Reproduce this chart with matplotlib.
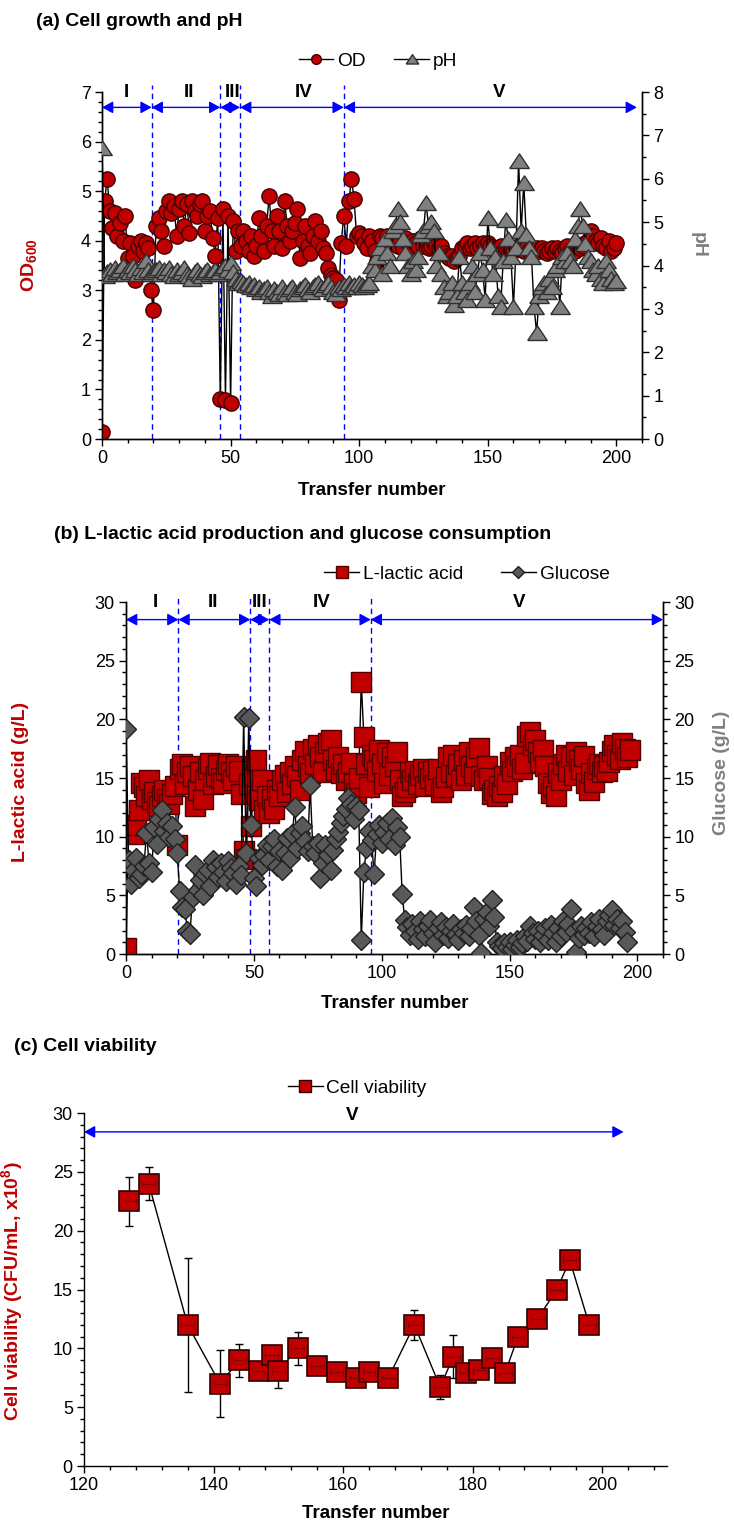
import numpy as np
import matplotlib
matplotlib.use('Agg')
import matplotlib.pyplot as plt
from matplotlib import font_manager
from matplotlib.lines import Line2D
from matplotlib.ticker import MultipleLocator

names = {f.name for f in font_manager.fontManager.ttflist}
NARROW = 'Liberation Sans Narrow' if 'Liberation Sans Narrow' in names else 'Liberation Sans'
plt.rcParams['font.family'] = ['Liberation Sans', 'DejaVu Sans']
plt.rcParams['mathtext.fontset'] = 'custom'
plt.rcParams['mathtext.rm'] = 'Liberation Sans:bold'
plt.rcParams['mathtext.it'] = 'Liberation Sans:bold'
plt.rcParams['mathtext.bf'] = 'Liberation Sans:bold'

# ---- (a) cell growth and pH, one value per transfer (0..200)
od = [0.15, 4.8, 5.25, 4.6, 4.25, 4.55, 4.1, 4.35, 4.0, 4.5,
      3.65, 3.95, 3.7, 3.2, 3.9, 4.0, 3.8, 3.95, 3.85, 3.0,
      2.6, 4.3, 4.45, 4.2, 3.9, 4.6, 4.8, 4.55, 4.7, 4.1,
      4.65, 4.8, 4.3, 4.75, 4.15, 4.8, 4.6, 4.5, 4.75, 4.8,
      4.2, 4.5, 4.6, 4.05, 3.7, 4.45, 0.8, 4.65, 0.78, 4.5,
      0.72, 4.4, 3.8, 4.2, 3.9, 4.2, 4.0, 3.8, 4.1, 3.7,
      3.9, 4.45, 4.1, 3.8, 4.3, 4.9, 4.2, 3.9, 4.5, 4.2,
      3.85, 4.8, 4.3, 4.0, 4.2, 4.35, 4.65, 3.65, 4.0, 4.3,
      3.9, 3.75, 4.1, 4.4, 4.0, 4.2, 3.85, 3.75, 3.45, 3.3,
      3.25, 3.2, 2.8, 3.95, 4.5, 3.9, 4.8, 5.25, 4.85, 4.1,
      4.15, 4.1, 3.95, 3.85, 4.1, 4.0, 3.8, 3.6, 4.1, 4.05,
      3.9, 4.1, 4.0, 3.95, 4.1, 3.9, 4.0, 3.85, 4.05, 3.95,
      3.9, 4.0, 3.95, 3.9, 4.05, 3.9, 4.0, 3.85, 3.9, 3.95,
      3.9, 3.85, 3.9, 3.75, 3.7, 3.65, 3.7, 3.6, 3.65, 3.7,
      3.85, 3.9, 3.95, 3.85, 3.9, 3.95, 3.85, 3.9, 3.95, 3.9,
      3.95, 3.9, 3.85, 3.8, 3.85, 3.9, 3.8, 3.85, 3.9, 3.85,
      3.8, 3.85, 3.9, 3.85, 3.8, 3.85, 3.8, 3.75, 3.8, 3.85,
      3.8, 3.85, 3.8, 3.75, 3.8, 3.85, 3.8, 3.85, 3.8, 3.75,
      3.85, 3.9, 3.8, 3.85, 3.8, 3.9, 3.85, 3.9, 3.95, 4.0,
      4.2, 4.1, 4.0, 3.95, 4.05, 3.9, 3.85, 4.0, 3.8, 3.85,
      3.95]
ph = [6.7, 3.75, 3.85, 3.9, 3.8, 3.95, 3.85, 3.9, 4.0, 3.8,
      3.9, 3.85, 4.0, 3.9, 3.8, 3.95, 3.85, 4.1, 3.9, 3.8,
      3.85, 3.9, 3.95, 3.8, 3.9, 3.85, 3.95, 3.8, 3.75, 3.9,
      3.8, 3.85, 3.95, 3.8, 3.75, 3.7, 3.85, 3.9, 3.8, 3.75,
      3.85, 3.9, 3.8, 3.85, 3.9, 3.8, 3.85, 3.95, 4.0, 3.9,
      4.05, 3.85, 3.7, 3.6, 3.65, 3.6, 3.55, 3.6, 3.5, 3.55,
      3.45, 3.5, 3.4, 3.45, 3.5, 3.4, 3.3, 3.45, 3.4, 3.35,
      3.5, 3.4, 3.35, 3.45, 3.5, 3.4, 3.35, 3.45, 3.5, 3.55,
      3.45, 3.4, 3.5, 3.55, 3.6, 3.5, 3.45, 3.55, 3.6, 3.5,
      3.4, 3.35, 3.5, 3.45, 3.55, 3.5, 3.6, 3.5, 3.55, 3.5,
      3.6, 3.55, 3.5, 3.55, 3.6, 4.0, 3.9, 4.2, 4.4, 3.8,
      4.6, 4.3, 4.0, 4.8, 4.9, 5.3, 5.0, 4.6, 4.3, 4.0,
      3.8, 4.1, 3.9, 4.2, 4.7, 4.8, 5.45, 4.9, 5.0, 4.8,
      4.0, 4.3, 3.8, 3.5, 3.3, 3.4, 3.6, 3.1, 3.3, 4.2,
      3.6, 3.4, 3.2, 3.6, 4.0, 3.4, 3.8, 4.3, 3.9, 3.2,
      5.1, 4.4, 3.8, 4.2, 3.3, 3.05, 4.1, 5.05, 4.6, 4.2,
      3.05, 4.4, 6.4, 4.8, 5.9, 4.7, 4.4, 4.2, 3.05, 2.45,
      3.3, 3.5, 3.6, 3.4, 3.7, 3.5, 3.9, 4.0, 3.05, 4.2,
      4.1, 4.3, 4.1, 4.0, 4.6, 4.9, 5.3, 4.9, 4.5, 4.2,
      4.1, 3.9, 3.8, 4.0, 3.7, 3.6, 4.1, 3.9, 3.7, 3.6,
      3.65]

# ---- (b) L-lactic acid (transfers 0..197) and glucose (transfers 0..196), g/L
lactic = [0.5, 10.5, 10.8, 10.2, 11.0, 12.3, 14.6, 14.2, 13.5, 14.8,
          13.2, 13.8, 13.0, 12.6, 13.5, 14.0, 13.2, 12.8, 13.6, 14.3,
          9.3, 15.8, 16.2, 14.5, 15.5, 16.0, 15.2, 12.6, 14.0, 15.5,
          13.2, 14.8, 15.8, 16.3, 14.5, 15.2, 16.1, 15.0, 14.6, 15.7,
          16.2, 15.5, 14.8, 16.0, 15.6, 13.6, 8.8, 8.1, 14.5, 10.9,
          15.2, 16.5, 13.1, 14.8, 12.3, 13.5, 12.0, 13.2, 12.4, 14.0,
          13.5, 14.8, 15.3, 13.8, 15.5, 14.5, 16.0, 15.2, 14.0, 16.5,
          17.3, 16.0, 15.4, 17.5, 16.2, 17.8, 16.8, 15.5, 17.2, 18.0,
          18.2, 16.5, 15.7, 16.8, 15.4, 16.2, 14.8, 15.5, 16.3, 14.5,
          13.7, 15.0, 23.2, 18.5, 16.2, 14.2, 17.0, 16.5, 15.6, 17.4,
          16.2, 14.6, 17.1, 15.3, 16.8, 16.0, 17.2, 14.8, 13.5, 13.8,
          14.2, 15.5, 14.8, 15.6, 14.5, 15.3, 15.8, 14.3, 15.5, 15.0,
          15.6, 14.4, 15.8, 13.8, 14.2, 15.1, 16.8, 15.5, 17.0, 15.2,
          16.2, 14.8, 16.5, 15.3, 17.2, 16.0, 15.4, 16.8, 17.6, 15.2,
          14.8, 16.0, 15.0, 13.6, 14.0, 13.5, 14.3, 13.8, 15.2, 14.5,
          16.4, 15.6, 16.8, 16.0, 17.0, 15.8, 16.3, 18.6, 18.9, 17.8,
          18.2, 17.2, 16.4, 17.4, 16.0, 14.6, 13.7, 14.3, 13.5, 15.4,
          14.8, 16.2, 17.0, 15.6, 16.8, 15.3, 17.2, 16.5, 15.8, 16.9,
          14.6, 14.0, 15.4, 14.7, 15.8, 16.2, 15.5, 16.0, 15.6, 16.4,
          17.3, 17.8, 17.0, 16.6, 18.0, 17.5, 16.8, 17.4]
glucose = [19.2, 8.0, 6.0, 7.2, 8.2, 6.5, 6.8, 7.5, 10.3, 7.8,
           7.0, 10.8, 9.4, 11.5, 12.3, 10.5, 11.2, 10.0, 10.9, 9.8,
           8.6, 5.4, 4.0, 3.8, 2.0, 1.7, 4.9, 7.6, 5.5, 6.3,
           5.0, 6.8, 7.2, 5.8, 8.0, 7.4, 6.6, 7.8, 7.0, 6.2,
           7.9, 7.3, 6.9, 6.0, 7.5, 6.7, 20.2, 8.6, 20.1, 11.0,
           6.5, 5.8, 8.2, 7.6, 8.4, 9.3, 8.0, 9.2, 9.8, 7.5,
           8.8, 7.2, 8.6, 9.9, 8.2, 10.2, 12.5, 9.0, 10.3, 10.9,
           9.6, 8.8, 14.4, 9.2, 8.6, 9.5, 6.5, 7.8, 9.3, 8.4,
           7.2, 8.9, 9.8, 10.4, 11.2, 11.8, 12.4, 13.3, 12.8, 11.5,
           12.6, 12.3, 1.2, 7.0, 9.0, 10.5, 9.7, 6.8, 10.2, 11.0,
           9.5, 10.4, 11.2, 9.8, 11.6, 9.3, 10.8, 10.0, 5.1, 2.9,
           2.3, 1.6, 2.6, 2.0, 1.3, 2.8, 2.1, 1.5, 2.4, 2.9,
           1.8, 1.0, 2.2, 2.7, 1.6, 2.3, 1.4, 2.0, 2.6, 1.7,
           1.2, 2.1, 1.8, 2.5, 1.5, 2.2, 4.0, 2.8, 1.6, 0.1,
           3.0, 3.6, 2.4, 4.6, 3.2, 1.0, 0.7, 0.5, 0.9, 0.6,
           1.0, 0.4, 0.8, 1.2, 0.6, 0.9, 1.5, 1.1, 2.4, 1.8,
           1.3, 2.0, 1.0, 1.6, 2.2, 1.2, 2.5, 1.8, 1.0, 2.2,
           1.5, 2.8, 1.9, 2.6, 3.8, 2.0, 0.2, 1.4, 2.4, 1.6,
           2.2, 1.8, 2.7, 1.5, 2.4, 3.0, 2.1, 1.6, 2.8, 3.3,
           3.75, 2.5, 3.0, 2.2, 2.8, 1.9, 1.05]

# ---- (c) cell viability (CFU/mL, x10^8)
cv_transfer = [127, 130, 136, 141, 144, 147, 149, 150, 153, 156, 159, 162, 164,
               167, 171, 175, 177, 179, 181, 183, 185, 187, 190, 193, 195, 198]
cv_value = [22.5, 24.0, 12.0, 7.0, 9.0, 8.1, 9.4, 8.1, 10.0, 8.5, 8.0, 7.5, 8.0,
            7.5, 12.0, 6.7, 9.3, 7.9, 8.15, 9.2, 7.9, 11.0, 12.5, 15.0, 17.5, 12.0]
cv_sd = [2.1, 1.4, 5.7, 2.85, 1.4, 0.5, 0.5, 1.5, 1.43, 0.4, 0.4, 0.4, 0.4,
         0.4, 1.25, 1.0, 1.8, 0.4, 0.4, 0.4, 0.4, 0.4, 0.4, 0.4, 0.4, 0.4]

# phase boundaries and labels
bounds_a = [0, 19.3, 46, 53.7, 94, 208]
bounds_b = [0, 20.5, 48.6, 56, 95.7, 210]
phases = ['I', 'II', 'III', 'IV', 'V']
label_x_a = [9.3, 33.7, 50.6, 78.5, 154.5]
label_x_b = [11.6, 34.2, 52.3, 76.3, 153.8]

RED = '#C00000'
BLUE = '#0000FF'
# wide, flat triangle like the spreadsheet marker
TRI = [(-1, -0.72), (1, -0.72), (0, 0.78), (-1, -0.72)]
LABEL_FS = 14
TICK_FS = 13
LEG_FS = 13.8


def style_axis(ax, ymajor, yminor):
    ax.spines['top'].set_visible(False)
    for s in ax.spines.values():
        s.set_linewidth(1.0)
    ax.yaxis.set_major_locator(MultipleLocator(ymajor))
    ax.yaxis.set_minor_locator(MultipleLocator(yminor))
    ax.tick_params(axis='both', which='major', direction='out', length=5, width=1,
                   labelsize=TICK_FS, pad=3)
    ax.tick_params(axis='both', which='minor', direction='out', length=3, width=1)


def draw_phases(ax, bounds, label_x, y_arrow, y_text):
    for b in bounds[1:-1]:
        ax.axvline(b, ymin=0, ymax=1.02, color=BLUE, lw=1, ls=(0, (4, 3)), clip_on=False, zorder=1)
    for i in range(len(phases)):
        ax.annotate('', xy=(bounds[i + 1], y_arrow), xytext=(bounds[i], y_arrow),
                    arrowprops=dict(arrowstyle='<|-|>,head_length=0.55,head_width=0.3',
                                    color=BLUE, lw=1, shrinkA=0, shrinkB=0,
                                    mutation_scale=12), annotation_clip=False)
        ax.text(label_x[i], y_text, phases[i], ha='center', va='center',
                fontsize=13.5, fontweight='bold', family=NARROW, clip_on=False)


fig = plt.figure(figsize=(7.34, 15.26), dpi=100)

# ================= (a)
ax = fig.add_axes([0.139, 0.7123, 0.7357, 0.2274])
ax2 = ax.twinx()
ax.plot(np.arange(len(od)), od, color='black', lw=1, marker='o', ms=11, mfc=RED,
        mec='#400000', mew=1, zorder=3)
ax2.plot(np.arange(len(ph)), ph, color='black', lw=1, marker=TRI, ms=14, mfc='#808080',
         mec='#303030', mew=1, zorder=3)
ax.set_xlim(0, 210)
ax.set_ylim(0, 7)
ax2.set_ylim(0, 8)
ax.xaxis.set_major_locator(MultipleLocator(50))
ax.xaxis.set_minor_locator(MultipleLocator(10))
style_axis(ax, 1, 0.2)
style_axis(ax2, 1, 0.5)
draw_phases(ax, bounds_a, label_x_a, 6.69, 7.0)
ax.set_xlabel('Transfer number', fontsize=13.5, fontweight='bold', family=NARROW)
ax.xaxis.set_label_coords(0.5, -0.125)
ax.set_ylabel(r'OD$_{\mathrm{600}}$', fontsize=LABEL_FS, fontweight='bold', color=RED)
ax.yaxis.set_label_coords(-0.117, 0.5)
ax2.set_ylabel('pH', fontsize=LABEL_FS, fontweight='bold', color='#808080', rotation=270,
               va='center')
ax2.yaxis.set_label_coords(1.104, 0.56)
fig.text(0.049, 0.9856, '(a) Cell growth and pH', fontsize=14, fontweight='bold',
         family=NARROW, va='center')
h_a = [Line2D([], [], color='black', lw=1, marker='o', ms=7, mfc=RED, mec='#400000'),
       Line2D([], [], color='black', lw=1, marker=TRI, ms=9, mfc='#808080', mec='#303030')]
fig.legend(h_a, ['OD', 'pH'], loc='center', bbox_to_anchor=(0.515, 0.96), ncol=2,
           frameon=False, handlelength=1.8, handletextpad=0.2, columnspacing=1.5,
           prop={'family': NARROW, 'size': LEG_FS})

# ================= (b)
bx = fig.add_axes([0.1717, 0.3748, 0.7316, 0.2307])
bx2 = bx.twinx()
bx.plot(np.arange(len(lactic)), lactic, color='black', lw=1, marker='s', ms=14,
        mfc=RED, mec='#500000', mew=1, zorder=3)
bx2.plot(np.arange(len(glucose)), glucose, color='black', lw=1, marker='D', ms=10,
         mfc='#595959', mec='#202020', mew=1, zorder=3)
bx.set_xlim(0, 210)
bx.set_ylim(0, 30)
bx2.set_ylim(0, 30)
bx.xaxis.set_major_locator(MultipleLocator(50))
bx.xaxis.set_minor_locator(MultipleLocator(10))
style_axis(bx, 5, 1)
style_axis(bx2, 5, 1)
draw_phases(bx, bounds_b, label_x_b, 28.5, 30.0)
bx.set_xlabel('Transfer number', fontsize=13.5, fontweight='bold', family=NARROW)
bx.xaxis.set_label_coords(0.5, -0.115)
bx.set_ylabel('L-lactic acid (g/L)', fontsize=LABEL_FS, fontweight='bold', color=RED)
bx.yaxis.set_label_coords(-0.181, 0.49)
bx2.set_ylabel('Glucose (g/L)', fontsize=LABEL_FS, fontweight='bold', color='#808080',
               rotation=90)
bx2.yaxis.set_label_coords(1.093, 0.514)
fig.text(0.0736, 0.650, '(b) L-lactic acid production and glucose consumption',
         fontsize=14, fontweight='bold', family=NARROW, va='center')
h_b = [Line2D([], [], color='black', lw=1, marker='s', ms=8, mfc=RED, mec='#500000'),
       Line2D([], [], color='black', lw=1, marker='D', ms=6, mfc='#595959', mec='#202020')]
fig.legend(h_b, ['L-lactic acid', 'Glucose'], loc='center', bbox_to_anchor=(0.636, 0.6239),
           ncol=2, frameon=False, handlelength=1.8, handletextpad=0.2, columnspacing=2.0,
           prop={'family': NARROW, 'size': LEG_FS})

# ================= (c)
cx = fig.add_axes([0.1144, 0.0393, 0.7943, 0.2313])
cx.errorbar(cv_transfer, cv_value, yerr=cv_sd, fmt='none', ecolor='black', elinewidth=1,
            capsize=3, capthick=1, zorder=2)
cx.plot(cv_transfer, cv_value, color='black', lw=1, marker='s', ms=14, mfc=RED,
        mec='#300000', mew=1.2, zorder=3)
cx.errorbar(cv_transfer, cv_value, xerr=1.0, fmt='none', ecolor='#8a0000', elinewidth=0.8,
            capsize=2.5, capthick=0.8, zorder=4)
cx.set_xlim(120, 210)
cx.set_ylim(0, 30)
cx.xaxis.set_major_locator(MultipleLocator(20))
cx.xaxis.set_minor_locator(MultipleLocator(4))
style_axis(cx, 5, 1)
cx.spines['right'].set_visible(False)
cx.annotate('', xy=(203.3, 28.4), xytext=(120, 28.4),
            arrowprops=dict(arrowstyle='<|-|>,head_length=0.55,head_width=0.3', color=BLUE,
                            lw=1, shrinkA=0, shrinkB=0, mutation_scale=12),
            annotation_clip=False)
cx.text(161.4, 29.8, 'V', ha='center', va='center', fontsize=13.5, fontweight='bold',
        family=NARROW)
cx.set_xlabel('Transfer number', fontsize=13.5, fontweight='bold', family=NARROW)
cx.xaxis.set_label_coords(0.5, -0.11)
cx.set_ylabel(r'Cell viability (CFU/mL, x10$^{8}$)', fontsize=LABEL_FS, fontweight='bold',
              color=RED)
cx.yaxis.set_label_coords(-0.101, 0.495)
fig.text(0.019, 0.3139, '(c) Cell viability', fontsize=14, fontweight='bold',
         family=NARROW, va='center')
h_c = [Line2D([], [], color='black', lw=1, marker='s', ms=8, mfc=RED, mec='#300000')]
fig.legend(h_c, ['Cell viability'], loc='center', bbox_to_anchor=(0.487, 0.287),
           frameon=False, handlelength=1.8, handletextpad=0.2,
           prop={'family': NARROW, 'size': LEG_FS})

fig.savefig('out.png', dpi=100)
